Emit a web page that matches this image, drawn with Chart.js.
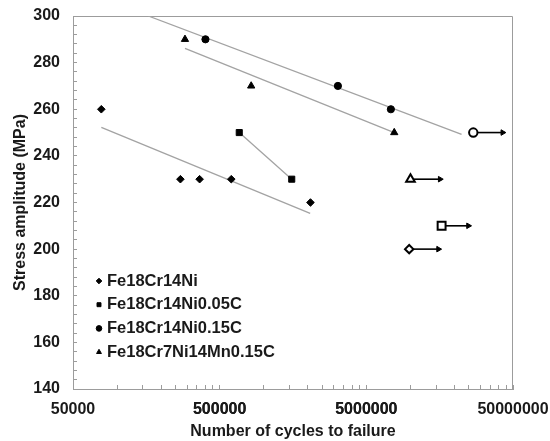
<!DOCTYPE html>
<html>
<head>
<meta charset="utf-8">
<script src="https://cdn.jsdelivr.net/npm/chart.js@4.4.0/dist/chart.umd.min.js"></script>
<style>
  body { margin: 0; background: #fff; }
  #wrap { width: 550px; height: 441px; }
</style>
</head>
<body>
<div id="wrap"><canvas id="fatigueChart"></canvas></div>
<script>
// nama seri dan bentuk marker
const seriesNames = ['Fe18Cr14Ni', 'Fe18Cr14Ni0.05C', 'Fe18Cr14Ni0.15C', 'Fe18Cr7Ni14Mn0.15C'];
const markerStyles = ['rectRot', 'rect', 'circle', 'triangle'];

// spesimen patah: siklus, tegangan (MPa)
const niCycles = [78000, 270000, 365000, 600000, 2080000];
const niStress = [260, 230, 230, 230, 220];
const c005Cycles = [680000, 1550000];
const c005Stress = [250, 230];
const c015Cycles = [400000, 3200000, 7350000];
const c015Stress = [290, 270, 260];
const mnCycles = [290000, 820000, 7750000];
const mnStress = [290, 270, 250];

// run-out (tidak patah): awal, ujung panah, tegangan
const runoutCycles = [9800000, 16300000, 26800000, 10000000];
const runoutArrowEnd = [15500000, 24800000, 42500000, 15900000];
const runoutStress = [200, 210, 250, 230];

// garis tren [awal, akhir]
const niFitCycles = [78000, 2070000];
const niFitStress = [252.2, 215.3];
const c005FitCycles = [680000, 1550000];
const c005FitStress = [250, 230];
const c015FitCycles = [163000, 22300000];
const c015FitStress = [300, 249.2];
const mnFitCycles = [290000, 7750000];
const mnFitStress = [286.1, 250];

const xTickLabels = [50000, 500000, 5000000, 50000000];
const yTickLabels = [140, 160, 180, 200, 220, 240, 260, 280, 300];

const pts = (xs, ys) => xs.map((x, i) => ({ x: x, y: ys[i] }));

// tick kecil: kelipatan label awal dekade, dan tiap 4 MPa
const xTicks = [];
for (let d = 0; d < xTickLabels.length - 1; d++) {
  for (let k = 1; k <= 10; k++) xTicks.push(xTickLabels[d] * k);
}
const yTicks = [];
for (let v = yTickLabels[0]; v <= yTickLabels[yTickLabels.length - 1]; v += 4) yTicks.push(v);

const axisGray = '#9c9c9c';
const textColor = '#1a1a1a';
const boldFont = { family: "'Liberation Sans', Arial, sans-serif", size: 16, weight: 'bold' };

const markerRadius = [3.8, 4.3, 3.6, 4.2];
const runoutRadius = [4.2, 5.6, 4.2, 5];

const datasets = [];

// marker data patah
[[niCycles, niStress], [c005Cycles, c005Stress], [c015Cycles, c015Stress], [mnCycles, mnStress]].forEach((s, i) => {
  datasets.push({
    label: seriesNames[i],
    data: pts(s[0], s[1]),
    showLine: false,
    pointStyle: markerStyles[i],
    pointRadius: markerRadius[i],
    pointBackgroundColor: '#000',
    pointBorderColor: '#000',
    pointBorderWidth: 1,
    order: 1
  });
});

// marker run-out (terbuka) + panah
runoutCycles.forEach((c, i) => {
  datasets.push({
    label: seriesNames[i] + ' run-out',
    data: [{ x: c, y: runoutStress[i] }],
    showLine: false,
    pointStyle: markerStyles[i],
    pointRadius: runoutRadius[i],
    pointBackgroundColor: '#fff',
    pointBorderColor: '#000',
    pointBorderWidth: 2,
    order: 0
  });
  datasets.push({
    label: seriesNames[i] + ' arrow',
    data: [{ x: c, y: runoutStress[i] }, { x: runoutArrowEnd[i], y: runoutStress[i] }],
    showLine: true,
    borderColor: '#000',
    borderWidth: 1.6,
    pointStyle: 'triangle',
    rotation: 90,
    pointRadius: [0, 3.2],
    pointBackgroundColor: '#000',
    pointBorderColor: '#000',
    pointBorderWidth: 1,
    order: 2
  });
});

// garis tren abu-abu
[[niFitCycles, niFitStress], [c005FitCycles, c005FitStress], [c015FitCycles, c015FitStress], [mnFitCycles, mnFitStress]].forEach((s, i) => {
  datasets.push({
    label: seriesNames[i] + ' fit',
    data: pts(s[0], s[1]),
    showLine: true,
    borderColor: '#a3a3a3',
    borderWidth: 1.3,
    pointRadius: 0,
    order: 3
  });
});

// bingkai atas & kanan
const framePlugin = {
  id: 'frame',
  beforeDatasetsDraw(chart) {
    const { ctx, chartArea: a } = chart;
    ctx.save();
    ctx.strokeStyle = axisGray;
    ctx.lineWidth = 1;
    ctx.beginPath();
    ctx.moveTo(a.left, a.top + 0.5);
    ctx.lineTo(a.right - 0.5, a.top + 0.5);
    ctx.lineTo(a.right - 0.5, a.bottom);
    ctx.stroke();
    ctx.restore();
  }
};

// legenda di dalam area plot, kiri bawah
const insideLegend = {
  id: 'insideLegend',
  afterDraw(chart) {
    const { ctx, chartArea: a } = chart;
    ctx.save();
    ctx.strokeStyle = '#000';
    ctx.lineWidth = 1;
    seriesNames.forEach((name, i) => {
      const y = a.bottom - 108 + i * 23.7;
      const x = a.left + 26;
      ctx.fillStyle = '#000';
      Chart.helpers.drawPoint(ctx, { pointStyle: markerStyles[i], radius: 2.8, borderWidth: 1, rotation: 0 }, x, y);
      ctx.fillStyle = textColor;
      ctx.font = "bold 16.5px 'Liberation Sans', Arial, sans-serif";
      ctx.textBaseline = 'middle';
      ctx.textAlign = 'left';
      ctx.fillText(name, x + 8, y);
    });
    ctx.restore();
  }
};

// buang padding label otomatis supaya area plot pas
const noScalePadding = (scale) => {
  scale.paddingTop = 0;
  scale.paddingBottom = 0;
  scale.paddingLeft = 0;
  scale.paddingRight = 0;
};

const ctx = document.getElementById('fatigueChart').getContext('2d');
const myChart = new Chart(ctx, {
  type: 'scatter',
  data: { datasets: datasets },
  options: {
    responsive: true,
    maintainAspectRatio: false,
    animation: false,
    layout: { padding: { top: 16, right: 37, left: 0, bottom: 0 } },
    plugins: {
      legend: { display: false },
      tooltip: { enabled: false }
    },
    scales: {
      x: {
        type: 'logarithmic',
        min: xTickLabels[0],
        max: xTickLabels[xTickLabels.length - 1],
        afterBuildTicks: (scale) => { scale.ticks = xTicks.map(v => ({ value: v })); },
        afterFit: (scale) => { scale.height = 52; noScalePadding(scale); },
        ticks: {
          autoSkip: false,
          maxRotation: 0,
          padding: 15,
          color: textColor,
          font: boldFont,
          callback: (v) => xTickLabels.includes(v) ? String(v) : ''
        },
        grid: { drawOnChartArea: false, drawTicks: true, tickLength: -4, color: axisGray },
        border: { color: axisGray, width: 1 },
        title: {
          display: true,
          text: 'Number of cycles to failure',
          color: textColor,
          font: boldFont,
          padding: { top: 0, bottom: 0 }
        }
      },
      y: {
        min: yTickLabels[0],
        max: yTickLabels[yTickLabels.length - 1],
        afterBuildTicks: (scale) => { scale.ticks = yTicks.map(v => ({ value: v })); },
        afterFit: (scale) => { scale.width = 73; noScalePadding(scale); },
        ticks: {
          autoSkip: false,
          padding: 17,
          color: textColor,
          font: boldFont,
          callback: (v) => yTickLabels.includes(v) ? String(v) : ''
        },
        grid: { drawOnChartArea: false, drawTicks: true, tickLength: -4, color: axisGray },
        border: { color: axisGray, width: 1 },
        title: {
          display: true,
          text: 'Stress amplitude (MPa)',
          color: textColor,
          font: boldFont,
          padding: { top: 11, bottom: 0 }
        }
      }
    }
  },
  plugins: [framePlugin, insideLegend]
});
</script>
</body>
</html>
